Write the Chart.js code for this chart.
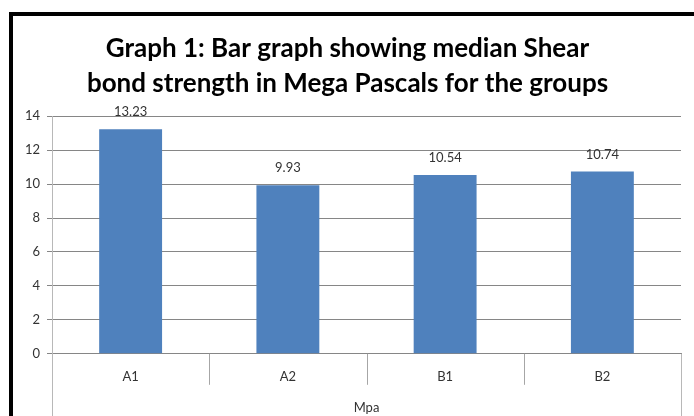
<!DOCTYPE html>
<html>
<head>
<meta charset="utf-8">
<script src="https://cdn.jsdelivr.net/npm/chart.js@4.4.0/dist/chart.umd.min.js"></script>
<style>
  html, body { margin: 0; padding: 0; background: #fff; }
  #wrap { width: 694px; height: 416px; position: relative; }
</style>
</head>
<body>
<div id="wrap"><canvas id="c" width="694" height="416"></canvas></div>
<script>
const categories = ['A1', 'A2', 'B1', 'B2'];
const medianValues = [13.23, 9.93, 10.54, 10.74];
const valueLabels = ['13.23', '9.93', '10.54', '10.74'];
const axisTitle = 'Mpa';
const titleLines = ['Graph 1: Bar graph showing median Shear', 'bond strength in Mega Pascals for the groups'];
const yMin = 0, yMax = 14, yStep = 2;

const FONT = 'Lato, "Open Sans", "Liberation Sans", sans-serif';

const decorPlugin = {
  id: 'decor',
  beforeDraw(chart) {
    const ctx = chart.ctx;
    ctx.save();
    ctx.fillStyle = '#ffffff';
    ctx.fillRect(0, 0, chart.width, chart.height);
    ctx.restore();
  },
  afterDatasetsDraw(chart) {
    const ctx = chart.ctx;
    const meta = chart.getDatasetMeta(0);
    ctx.save();
    ctx.font = '13px ' + FONT;
    ctx.fillStyle = '#333333';
    ctx.textAlign = 'center';
    ctx.textBaseline = 'middle';
    meta.data.forEach((bar, i) => {
      ctx.fillText(valueLabels[i], bar.x, bar.y - 17);
    });
    ctx.restore();
  },
  afterDraw(chart) {
    const ctx = chart.ctx;
    const area = chart.chartArea;
    const xs = chart.scales.x;
    ctx.save();
    ctx.strokeStyle = '#a6a6a6';
    ctx.lineWidth = 1;
    for (let i = 1; i < categories.length; i++) {
      const x = Math.round((xs.getPixelForValue(i - 1) + xs.getPixelForValue(i)) / 2) + 0.5;
      ctx.beginPath();
      ctx.moveTo(x, area.bottom);
      ctx.lineTo(x, area.bottom + 31);
      ctx.stroke();
    }
    ctx.strokeStyle = '#b8b8b8';
    [Math.round(area.left) + 0.5, Math.round(area.right) + 0.5].forEach(x => {
      ctx.beginPath();
      ctx.moveTo(x, area.bottom);
      ctx.lineTo(x, chart.height);
      ctx.stroke();
    });
    ctx.strokeStyle = '#000000';
    ctx.lineWidth = 4;
    ctx.beginPath();
    ctx.moveTo(11, chart.height + 5);
    ctx.lineTo(11, 14);
    ctx.lineTo(chart.width + 5, 14);
    ctx.stroke();
    ctx.restore();
  }
};

new Chart(document.getElementById('c'), {
  type: 'bar',
  data: {
    labels: categories,
    datasets: [{
      label: axisTitle,
      data: medianValues,
      backgroundColor: '#4f81bd',
      borderWidth: 0,
      barPercentage: 0.4,
      categoryPercentage: 1.0
    }]
  },
  options: {
    responsive: false,
    animation: false,
    layout: { padding: { left: 14, right: 13, top: 14, bottom: 0 } },
    plugins: {
      legend: { display: false },
      tooltip: { enabled: false },
      title: {
        display: true,
        text: titleLines,
        color: '#000000',
        font: { family: FONT, size: 26, weight: 'bold', lineHeight: 1.35 },
        padding: { top: 17, bottom: 15 }
      }
    },
    scales: {
      x: {
        grid: { display: false, drawTicks: false },
        border: { display: true, color: '#868686' },
        ticks: { color: '#333333', font: { family: FONT, size: 13 }, padding: 15 },
        title: {
          display: true,
          text: axisTitle,
          color: '#333333',
          font: { family: FONT, size: 13, lineHeight: 1.2 },
          padding: { top: 1, bottom: 0 }
        }
      },
      y: {
        min: yMin,
        max: yMax,
        ticks: { stepSize: yStep, color: '#333333', font: { family: FONT, size: 13 }, padding: 7 },
        grid: { color: '#868686', tickLength: 5, drawTicks: true },
        border: { display: true, color: '#b8b8b8' },
        afterFit(scale) { scale.width = 38; }
      }
    }
  },
  plugins: [decorPlugin]
});
</script>
</body>
</html>
